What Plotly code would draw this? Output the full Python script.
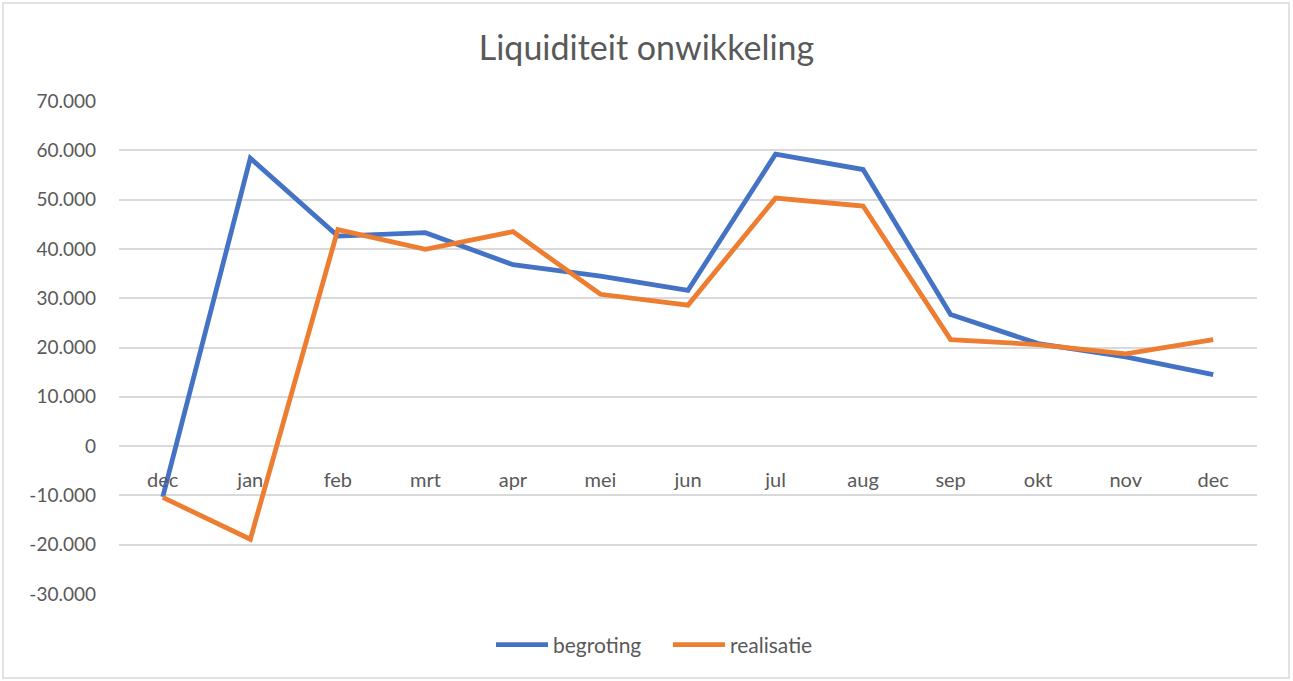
import plotly.graph_objects as go

months = ["dec", "jan", "feb", "mrt", "apr", "mei", "jun", "jul", "aug", "sep", "okt", "nov", "dec"]
begroting = [-10300, 58400, 42600, 43300, 36800, 34500, 31600, 59200, 56100, 26700, 20800, 18100, 14500]
realisatie = [-10400, -18900, 43900, 39900, 43500, 30800, 28600, 50300, 48700, 21600, 20600, 18700, 21600]
y_ticks = [-30000, -20000, -10000, 0, 10000, 20000, 30000, 40000, 50000, 60000, 70000]
y_tick_labels = ["-30.000", "-20.000", "-10.000", "0", "10.000", "20.000", "30.000",
                 "40.000", "50.000", "60.000", "70.000"]

idx = list(range(len(months)))
font_family = "Lato, 'Open Sans', sans-serif"
grey = "#595959"

fig = go.Figure()
fig.add_trace(go.Scatter(x=idx, y=begroting, mode="lines", name="begroting",
                         line=dict(color="#4472C4", width=4.8)))
fig.add_trace(go.Scatter(x=idx, y=realisatie, mode="lines", name="realisatie",
                         line=dict(color="#ED7D31", width=4.8)))

W, H = 1293, 681
l, r, t, b = 119, 36, 101, 87
ph = H - t - b
pw = W - l - r
zero_pos = (0 - (-30000)) / 100000

fig.update_layout(
    width=W, height=H,
    margin=dict(l=l, r=r, t=t, b=b),
    paper_bgcolor="white", plot_bgcolor="white",
    font=dict(family=font_family, color=grey, size=19),
    title=dict(text="Liquiditeit onwikkeling", x=0.5, xanchor="center",
               y=1 - 48 / H, yanchor="middle",
               font=dict(size=34, color=grey, family=font_family)),
    legend=dict(orientation="h", x=0.5 - 20 / pw, xanchor="center", y=-(645 - (H - b)) / ph,
                yanchor="middle", font=dict(size=21, color=grey), itemwidth=52,
                entrywidth=110),
    xaxis=dict(tickmode="array", tickvals=idx, ticktext=months, range=[-0.5, 12.5],
               showgrid=False, zeroline=False, showline=False, ticks="",
               anchor="free", position=zero_pos, ticklabelstandoff=20,
               tickfont=dict(size=20, color=grey)),
    yaxis=dict(tickmode="array", tickvals=y_ticks, ticktext=y_tick_labels,
               range=[-30000, 70000], showgrid=True, gridcolor="#D9D9D9", gridwidth=2,
               zeroline=False, showline=False, ticks="", ticklabelstandoff=22,
               tickfont=dict(size=19, color=grey)),
    showlegend=True,
)

fig.add_shape(type="rect", xref="paper", yref="paper",
              x0=(3 - l) / pw, x1=(1289 - l) / pw,
              y0=(H - b - 678) / ph, y1=(H - b - 3) / ph,
              line=dict(color="#D9D9D9", width=1.5), fillcolor="rgba(0,0,0,0)", layer="below")

fig.write_html("out.html", config={"displayModeBar": False},
               post_script="document.body.style.margin='0';")
